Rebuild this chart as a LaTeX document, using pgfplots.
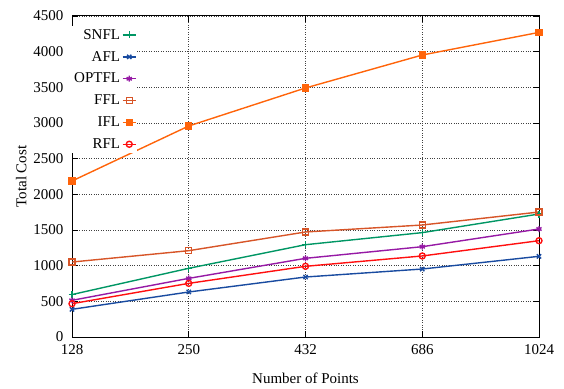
\documentclass[border=0pt]{standalone}
\usepackage{fontspec}
\setmainfont{Liberation Serif}
\usepackage{pgfplots}
\pgfplotsset{compat=1.18}
\usetikzlibrary{calc}
\definecolor{csnfl}{RGB}{0,150,100}
\definecolor{cafl}{RGB}{25,75,160}
\definecolor{coptfl}{RGB}{150,25,165}
\definecolor{cffl}{RGB}{215,85,40}
\definecolor{cifl}{RGB}{255,100,10}
\definecolor{crfl}{RGB}{255,15,15}
\begin{document}
\begin{tikzpicture}
\begin{axis}[
  scale only axis,
  width=467pt, height=321pt,
  xmin=0, xmax=4, ymin=0, ymax=4500,
  xtick={0,1,2,3,4},
  xticklabels={128,250,432,686,1024},
  ytick={0,500,...,4500},
  /pgf/number format/assume math mode=true,
  /pgf/number format/1000 sep={},
  tick label style={font=\fontsize{15}{18}\selectfont},
  label style={font=\fontsize{15}{18}\selectfont},
  yticklabel style={xshift=-5pt},
  xticklabel style={yshift=-4pt},
  xlabel={Number of Points},
  ylabel={Total Cost},
  xlabel style={yshift=-11pt},
  ylabel style={yshift=0pt},
  grid=major,
  major grid style={black!75, dotted, line width=0.6pt},
  axis line style={black, line width=1pt},
  tick style={black, line width=0.8pt},
  major tick length=6pt,
  tick align=inside,
  xtick pos=both, ytick pos=both,
  legend plot pos=right,
  legend cell align=right,
  legend style={draw=none, fill=white, at={(axis description cs:0,1)}, anchor=north west,
    xshift=-1pt, yshift=-10pt,
    font=\fontsize{15}{18}\selectfont, row sep=6.5pt, inner sep=1pt,
    /tikz/every even column/.append style={column sep=10pt}},
  legend image code/.code={\draw[mark repeat=2,mark phase=2] plot coordinates {(0pt,0pt) (6.5pt,0pt) (13pt,0pt)};},
  every axis plot/.append style={line width=1.4pt},
  every mark/.append style={line width=1.1pt},
]
\coordinate (sw) at (rel axis cs:0,0);
\coordinate (ne) at (rel axis cs:1,1);
\addplot[color=csnfl, mark=+, mark size=3.5pt] coordinates {(0,595) (1,963) (2,1294) (3,1463) (4,1724)};
\addlegendentry{SNFL}
\addplot[color=cafl, mark=x, mark size=3pt] coordinates {(0,388) (1,631) (2,841) (3,953) (4,1131)};
\addlegendentry{AFL}
\addplot[color=coptfl, mark=asterisk, mark size=3pt] coordinates {(0,514) (1,822) (2,1103) (3,1266) (4,1514)};
\addlegendentry{OPTFL}
\addplot[color=cffl, mark=square, mark size=3pt] coordinates {(0,1051) (1,1210) (2,1472) (3,1570) (4,1752)};
\addlegendentry{FFL}
\addplot[color=cifl, mark=square*, mark size=3pt] coordinates {(0,2187) (1,2958) (2,3491) (3,3953) (4,4270)};
\addlegendentry{IFL}
\addplot[color=crfl, mark=o, mark size=3pt] coordinates {(0,467) (1,752) (2,991) (3,1136) (4,1350)};
\addlegendentry{RFL}
\end{axis}
\pgfresetboundingbox
\path[use as bounding box] ($(sw)+(-72pt,-51pt)$) rectangle ($(ne)+(25pt,16pt)$);
\end{tikzpicture}
\end{document}
